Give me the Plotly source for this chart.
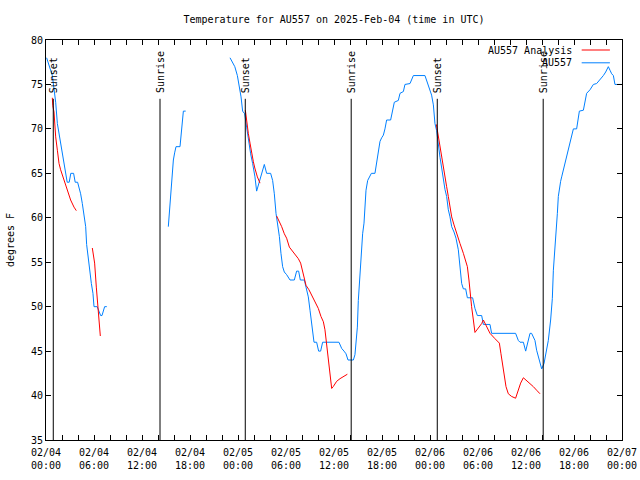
import pandas as pd
import plotly.graph_objects as go

BASE = "2025-02-04 00:00"
TITLE = "Temperature for AU557 on 2025-Feb-04 (time in UTC)"

# Observed AU557 (hours since 02/04 00:00 UTC, degrees F); segments separated by gaps
obs_segments = [
    [(0.08, 78), (0.4, 77), (0.79, 76), (1.0, 74.5), (1.21, 73), (1.42, 70.6), (1.71, 69),
     (2.04, 67), (2.46, 65), (2.65, 64), (2.9, 64), (3.1, 65), (3.45, 65), (3.65, 64),
     (3.95, 64), (4.1, 63.5), (4.33, 62.7), (4.54, 61.6), (4.75, 60), (4.96, 59), (5.08, 57),
     (5.25, 55.6), (5.46, 54), (5.67, 52.6), (5.87, 51.5), (6.0, 50), (6.4, 50), (6.6, 49.6),
     (6.83, 49), (7.0, 49), (7.33, 50), (7.6, 50)],
    [(15.29, 59), (15.37, 60), (15.5, 62), (15.63, 63.5), (15.79, 65.5), (15.92, 66.5),
     (16.08, 67.3), (16.25, 68), (16.75, 68), (16.88, 69.5), (17.0, 70.6), (17.17, 72),
     (17.46, 72)],
    [(23.0, 78), (23.42, 77.2), (23.6, 77), (23.92, 76), (24.17, 74.8), (24.38, 73.6),
     (24.58, 72), (24.83, 71.7), (25.08, 70.2), (25.29, 68.8), (25.58, 67.2), (25.83, 66.1),
     (26.12, 64.6), (26.33, 63), (26.67, 64), (26.96, 65), (27.29, 66), (27.58, 65),
     (28.08, 65), (28.33, 64.2), (28.54, 62.7), (28.75, 60.5), (28.96, 59.4), (29.17, 57.9),
     (29.37, 56), (29.58, 54.5), (29.79, 53.9), (30.08, 53.6), (30.5, 53), (31.04, 53),
     (31.33, 54), (31.58, 54), (31.79, 53), (32.29, 53), (32.5, 52.2), (32.79, 51.1),
     (33.0, 49.6), (33.21, 48.1), (33.33, 47), (33.5, 46), (33.83, 46), (34.08, 45),
     (34.33, 45), (34.58, 46), (36.62, 46), (36.96, 45.3), (37.25, 45), (37.5, 44.7),
     (37.75, 44), (38.42, 44), (38.62, 44.6), (38.75, 46.2), (38.92, 47.7), (39.04, 50.7),
     (39.25, 53.7), (39.46, 56), (39.58, 58.2), (39.75, 59.4), (39.87, 60.9), (40.0, 63.1),
     (40.21, 64.2), (40.5, 64.8), (40.67, 65), (41.12, 65), (41.33, 66.1), (41.54, 67.2),
     (41.75, 68.6), (41.96, 69), (42.17, 69.3), (42.37, 70), (42.58, 71), (43.08, 71),
     (43.33, 72), (43.54, 73), (44.04, 73.2), (44.25, 74), (44.67, 74.2), (44.87, 75),
     (45.5, 75.1), (45.92, 76), (47.37, 76), (47.67, 75.1), (48.0, 74.4), (48.2, 73.8),
     (48.42, 72.7), (48.62, 70.6), (48.83, 69.8), (49.04, 68), (49.25, 66.8), (49.46, 65.6),
     (49.67, 64.2), (49.87, 63.2), (50.08, 62.4), (50.29, 60.9), (50.5, 60.1), (50.71, 59),
     (51.0, 58.4), (51.25, 57.7), (51.54, 56.4), (51.75, 54.5), (51.96, 52.6), (52.17, 52),
     (52.46, 52), (52.67, 51), (53.33, 51), (53.62, 49.8), (53.92, 49), (54.46, 49),
     (54.67, 48), (55.5, 48), (55.7, 47), (58.7, 47), (59.04, 46.2), (59.25, 46),
     (59.67, 46), (59.96, 45), (60.5, 47), (60.7, 47), (61.12, 46.2), (61.33, 45.1),
     (61.62, 44), (61.96, 43), (62.25, 43.6), (62.5, 44.7), (62.79, 46.2), (63.08, 48.5),
     (63.29, 50.9), (63.42, 54.1), (63.62, 56.4), (63.75, 57.9), (63.92, 60.5),
     (64.04, 62.4), (64.17, 63.5), (64.33, 64.1), (64.46, 64.6), (64.67, 65.4),
     (64.87, 66.1), (65.08, 66.9), (65.29, 67.8), (65.5, 68.7), (65.71, 69.5), (65.92, 70),
     (66.33, 70), (66.54, 71), (66.67, 72), (67.17, 72.1), (67.37, 73), (67.58, 74),
     (68.0, 74.4), (68.42, 75), (68.83, 75.1), (69.25, 75.5), (69.67, 76), (69.96, 76.4),
     (70.29, 77), (70.5, 76.6), (70.71, 76.2), (70.92, 76), (71.12, 75), (72.0, 75)],
]

# AU557 Analysis
ana_segments = [
    [(0.79, 73.5), (0.85, 72.6), (1.0, 71.9), (1.21, 69.1), (1.42, 67.6), (1.63, 66.1),
     (1.83, 65.4), (2.25, 64.2), (2.67, 63.1), (3.08, 62), (3.5, 61.2), (3.79, 60.8)],
    [(5.79, 56.6), (6.08, 54.9), (6.29, 52.2), (6.5, 50), (6.63, 48.1), (6.79, 46.7)],
    [(24.92, 72.1), (25.08, 70.6), (25.29, 69.5), (25.5, 68.4), (25.7, 67.2), (25.92, 66.3),
     (26.1, 65.6), (26.42, 64.6), (26.75, 63.9)],
    [(28.83, 60.2), (29.17, 59.6), (29.46, 59), (29.79, 58.2), (30.08, 57.7), (30.42, 56.7),
     (30.75, 56.3), (31.12, 55.8), (31.54, 55.4), (31.83, 54.9), (32.17, 53.7), (32.5, 52.4),
     (32.87, 51.9), (33.21, 51.3), (33.62, 50.7), (34.04, 49.8), (34.37, 48.9), (34.67, 48.3),
     (34.87, 47.4), (35.08, 45.9), (35.29, 44), (35.5, 42.5), (35.71, 40.8), (35.9, 41),
     (36.33, 41.6), (36.75, 41.9), (37.25, 42.2), (37.67, 42.4)],
    [(48.8, 70.5), (49.04, 69.1), (49.25, 68), (49.46, 66.9), (49.67, 65.7), (49.87, 64.6),
     (50.08, 63.5), (50.29, 62.4), (50.5, 61.2), (50.71, 60.1), (51.0, 59.2), (51.33, 58.2),
     (51.75, 57.1), (52.17, 56), (52.46, 55.2), (52.67, 54.5), (52.87, 53), (53.0, 51.5),
     (53.2, 50), (53.42, 48.5), (53.62, 47.1), (54.04, 47.6), (54.46, 48.1), (54.67, 48.5),
     (55.08, 47.7), (55.5, 47), (56.12, 46.4), (56.67, 45.9), (56.87, 44.7), (57.08, 43.6),
     (57.29, 42.1), (57.5, 41), (57.79, 40.2), (58.2, 39.9), (58.7, 39.7), (59.04, 40.6),
     (59.33, 41.4), (59.67, 42), (60.08, 41.7), (60.5, 41.4), (60.92, 41), (61.33, 40.6),
     (61.75, 40.2)],
]

# Sun events (hours since 02/04 00:00 UTC)
sun_hours = [0.91, 14.25, 24.91, 38.15, 48.91, 62.15]
sun_labels = ["Sunset", "Sunrise", "Sunset", "Sunrise", "Sunset", "Sunrise"]

legend_names = ["AU557 Analysis", "AU557"]
colors = ["#ff0000", "#0080ff"]

base = pd.Timestamp(BASE)


def to_time(h):
    return base + pd.Timedelta(hours=h)


def flatten(segments):
    xs, ys = [], []
    for i, seg in enumerate(segments):
        if i > 0:
            xs.append(None)
            ys.append(None)
        for h, v in seg:
            xs.append(to_time(h))
            ys.append(v)
    return xs, ys


FONT = "DejaVu Sans Mono"
fig = go.Figure()

ax, ay = flatten(ana_segments)
ox, oy = flatten(obs_segments)
fig.add_trace(go.Scatter(x=ox, y=oy, mode="lines", line=dict(color=colors[1], width=1),
                         name=legend_names[1], connectgaps=False, showlegend=False))
fig.add_trace(go.Scatter(x=ax, y=ay, mode="lines", line=dict(color=colors[0], width=1),
                         name=legend_names[0], connectgaps=False, showlegend=False))

for h, lab in zip(sun_hours, sun_labels):
    t = to_time(h)
    fig.add_shape(type="line", xref="x", yref="paper", x0=t, x1=t, y0=0, y1=0.853,
                  line=dict(color="black", width=1))
    fig.add_annotation(x=t, y=0.8625, xref="x", yref="paper", text=lab, textangle=-90,
                       showarrow=False, xanchor="center", yanchor="bottom", xshift=1,
                       font=dict(family=FONT, size=10, color="black"))

# gnuplot-style legend: text then line sample on its right
leg_y = [0.975, 0.943]
for name, col, yy in zip(legend_names, colors, leg_y):
    fig.add_annotation(x=0.917, y=yy, xref="paper", yref="paper", text=name,
                       showarrow=False, xanchor="right", yanchor="middle",
                       font=dict(family=FONT, size=10, color="black"))
    fig.add_shape(type="line", xref="paper", yref="paper", x0=0.93, x1=0.979,
                  y0=yy, y1=yy, line=dict(color=col, width=1))

fig.update_layout(
    width=640, height=480,
    margin=dict(l=46, r=18, t=40, b=40, autoexpand=False),
    paper_bgcolor="white", plot_bgcolor="white",
    font=dict(family=FONT, size=10, color="black"),
    title=dict(text=TITLE, x=0.5, xref="paper", y=1 - 19 / 480, yanchor="middle",
               font=dict(family=FONT, size=10, color="black")),
    showlegend=False,
)
fig.update_xaxes(
    type="date", range=[to_time(0), to_time(72)],
    dtick=6 * 3600 * 1000, tick0=to_time(0), tickformat="%m/%d<br>%H:%M",
    ticks="inside", ticklen=5, tickcolor="black", showline=True, linecolor="black",
    linewidth=1, mirror="ticks", showgrid=False, zeroline=False, automargin=False,
    ticklabelstandoff=3,
    minor=dict(dtick=2 * 3600 * 1000, ticks="inside", ticklen=5, tickcolor="black",
               showgrid=False),
    tickfont=dict(family=FONT, size=10, color="black"),
)
fig.update_yaxes(
    range=[35, 80], dtick=5, ticks="inside", ticklen=5, tickcolor="black",
    showline=True, linecolor="black", linewidth=1, mirror="ticks", showgrid=False,
    zeroline=False, automargin=False,
    title=dict(text="degrees F", standoff=14,
               font=dict(family=FONT, size=10, color="black")),
    tickfont=dict(family=FONT, size=10, color="black"),
)

fig.write_html("out.html", config={"displayModeBar": False},
               post_script="document.body.style.margin='0px';")
